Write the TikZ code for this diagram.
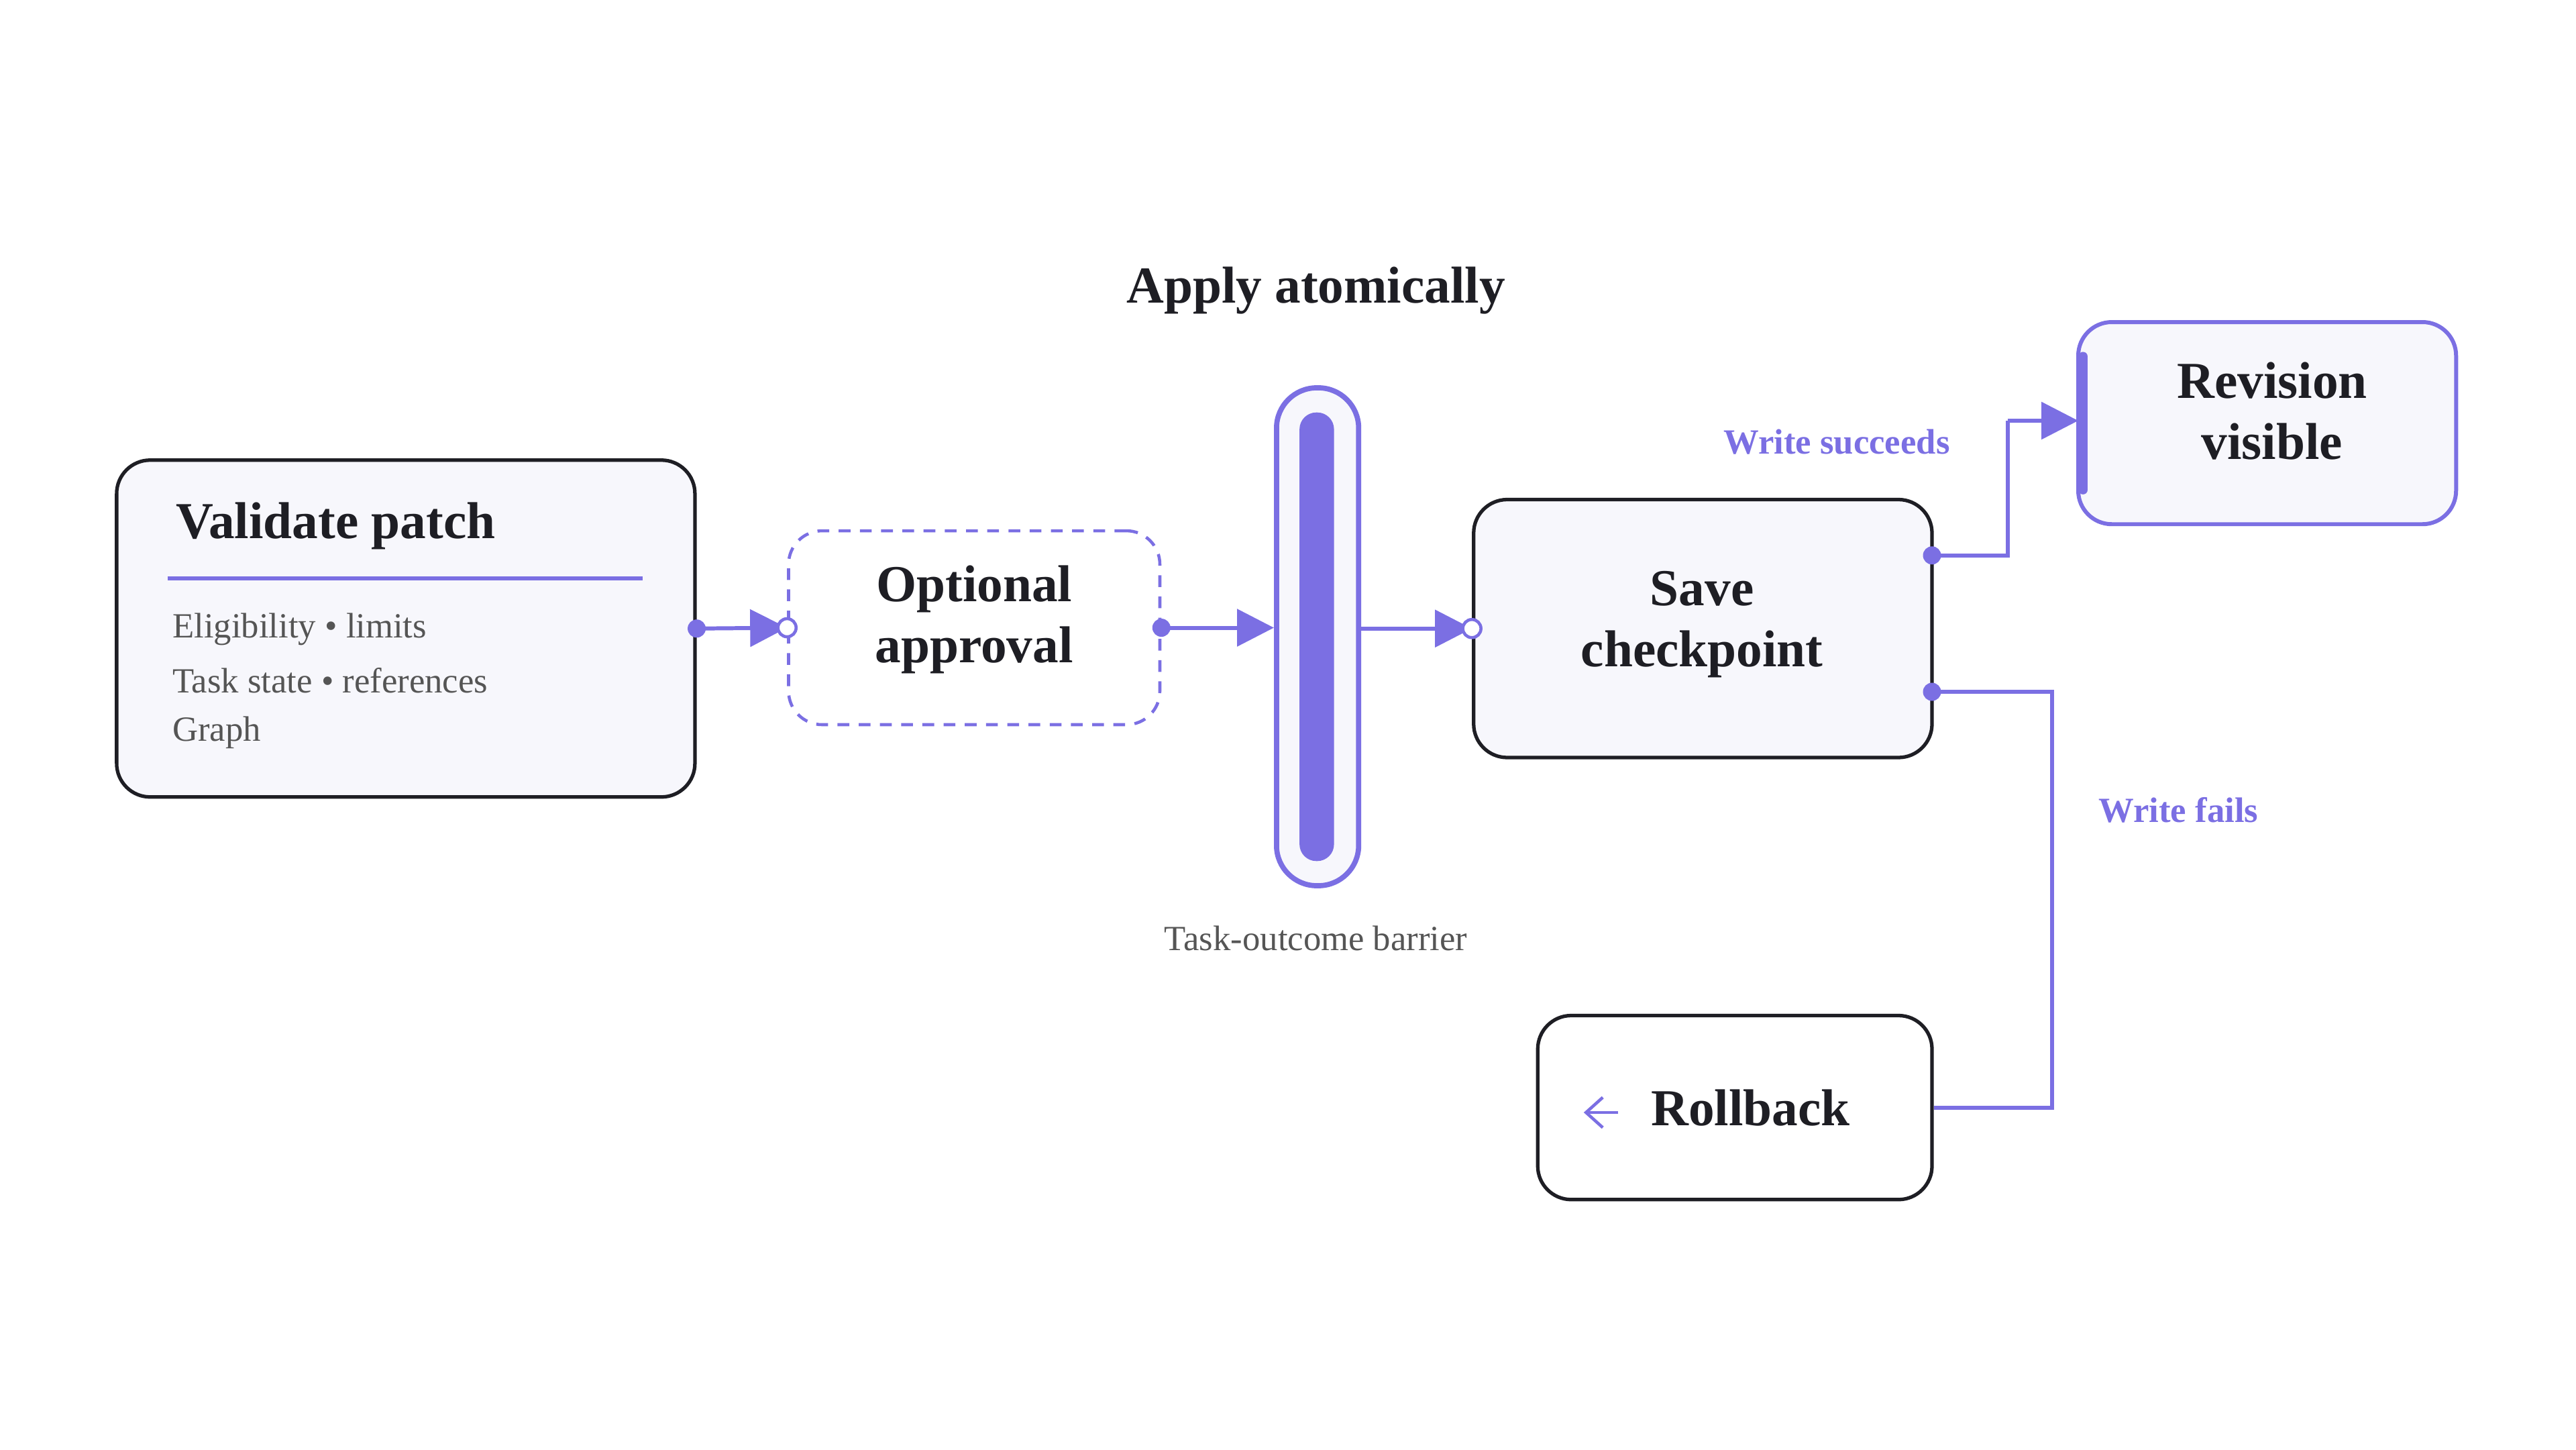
\documentclass[tikz,border=0pt]{standalone}
\usepackage{fontspec}
\setmainfont{Liberation Serif}
\usetikzlibrary{arrows.meta,calc}
\definecolor{pur}{HTML}{7B6FE3}
\definecolor{boxfill}{HTML}{F7F7FC}
\definecolor{ink}{HTML}{1E1E24}
\definecolor{greytxt}{HTML}{555555}
\begin{document}
\begin{tikzpicture}[x=0.02449cm,y=-0.02449cm,
  box/.style={draw=ink,line width=1.5pt,fill=boxfill,rounded corners=0.5cm,inner sep=0pt},
  title/.style={font=\fontsize{22}{26}\selectfont\bfseries,text=ink,align=center},
  body/.style={font=\fontsize{15}{19}\selectfont,text=greytxt,anchor=west},
  conn/.style={draw=pur,line width=1.7pt},
  arr/.style={conn,-{Triangle[length=0.55cm,width=0.55cm]}},
  dot/.style={circle,fill=pur,inner sep=0pt,minimum size=0.27cm},
  odot/.style={circle,draw=pur,fill=white,line width=1.3pt,inner sep=0pt,minimum size=0.27cm},
  lbl/.style={font=\fontsize{15}{18}\selectfont\bfseries,text=pur}]
\useasboundingbox (0,0) rectangle (1568,882);
% Validate
\node[box,minimum width=352*0.02449cm,minimum height=205*0.02449cm] (val) at (247,382.5) {};
\node[title,anchor=west] (valt) at (102,320) {Validate patch};
\coordinate (ul1) at (102,352); \coordinate (ul2) at (391,352);
\draw[conn] (ul1) -- (ul2);
\node[body] (b1) at (100,383) {Eligibility • limits};
\node[body] (b2) at (100,414) {Task state • references};
\node[body] (b3) at (100,446) {Graph};
% Optional
\node[draw=pur,line width=1.3pt,dash pattern=on 5pt off 4pt,rounded corners=0.5cm,fill=white,
  minimum width=226*0.02449cm,minimum height=118*0.02449cm] (opt) at (593,382) {};
\node[title] (optt) at (593,377) {Optional\\approval};
% Barrier
\node[draw=pur,line width=2.2pt,fill=boxfill,rounded corners=0.6cm,
  minimum width=50*0.02449cm,minimum height=303*0.02449cm] (bar) at (802,387.5) {};
\node[fill=pur,rounded corners=0.25cm,inner sep=0pt,
  minimum width=21*0.02449cm,minimum height=273*0.02449cm] (bari) at (801.5,387.5) {};
\node[title] (apply) at (801,177) {Apply atomically};
\node[font=\fontsize{15}{18}\selectfont,text=greytxt] (cap) at (801,571) {Task-outcome barrier};
% Save
\node[box,minimum width=279*0.02449cm,minimum height=157*0.02449cm] (save) at (1036.5,382.5) {};
\node[title] (savet) at (1036,380) {Save\\checkpoint};
% Revision
\node[draw=pur,line width=1.7pt,fill=boxfill,rounded corners=0.5cm,
  minimum width=230*0.02449cm,minimum height=123*0.02449cm] (rev) at (1380,257.5) {};
\node[title] (revt) at (1383,250) {Revision\\visible};
\coordinate (rb1) at (1268,217); \coordinate (rb2) at (1268,298);
\draw[pur,line width=4pt,line cap=round] (rb1) -- (rb2);
% Rollback
\node[draw=ink,line width=1.5pt,fill=white,rounded corners=0.5cm,
  minimum width=240*0.02449cm,minimum height=112*0.02449cm] (rol) at (1056,674) {};
\node[title,anchor=west] (rolt) at (1000,674) {Rollback};
\coordinate (ra1) at (985,677); \coordinate (ra2) at (964,677);
\draw[pur,line width=1.3pt,-{Straight Barb[length=0.25cm,width=0.45cm]}] (ra1) -- (ra2);
% connectors
\draw[arr] (val.east) -- (opt.west);
\node[dot] at (val.east) {}; \node[odot] at (opt.west) {};
\draw[arr] (opt.east) -- (bar.west|-opt.east);
\node[dot] at (opt.east) {};
\draw[arr] (bar.east|-save.west) -- (save.west);
\node[odot] at (save.west) {};
\coordinate (s1) at (1176,338); \coordinate (s2) at (1176,421);
\coordinate (t1) at (1222,256); \coordinate (r1) at (1265,256);
\draw[conn] (s1) -| (t1);
\draw[arr] (t1) -- (r1);
\node[dot] at (s1) {};
\coordinate (f1) at (1249,674);
\draw[conn] (s2) -| (f1) -- (rol.east);
\node[dot] at (s2) {};
\node[lbl] (ws) at (1118,269) {Write succeeds};
\node[lbl] (wf) at (1326,493) {Write fails};
\end{tikzpicture}
\end{document}
